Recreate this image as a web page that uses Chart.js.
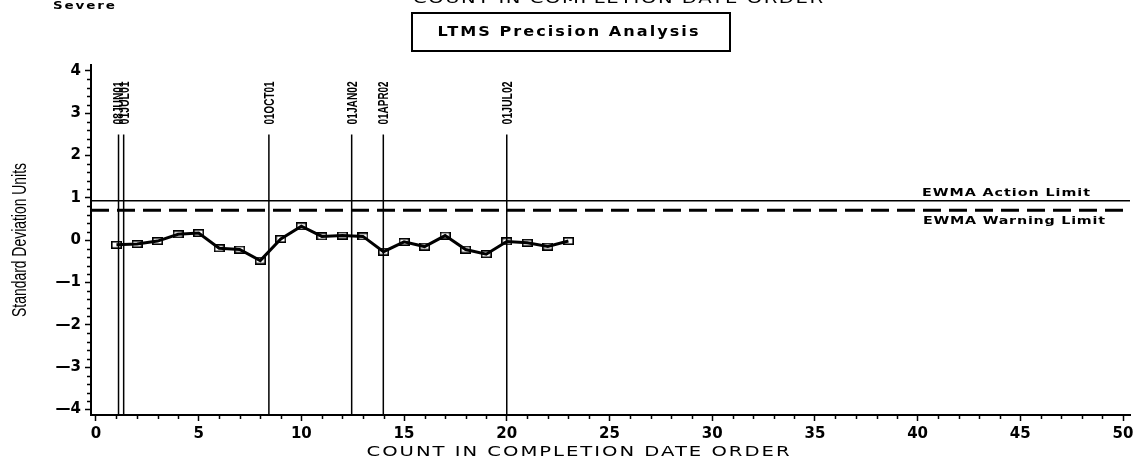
<!DOCTYPE html>
<html>
<head>
<meta charset="utf-8">
<title>LTMS Precision Analysis</title>
<script src="https://cdn.jsdelivr.net/npm/chart.js@4.4.1/dist/chart.umd.min.js"></script>
<style>
    html, body { margin: 0; padding: 0; background: #fff; }
    #wrap { width: 1148px; height: 467px; position: relative; }
</style>
</head>
<body>
<div id="wrap"><canvas id="ewmaChart"></canvas></div>
<script>
// chart values
const counts = [1, 2, 3, 4, 5, 6, 7, 8, 9, 10, 11, 12, 13, 14, 15, 16, 17, 18, 19, 20, 21, 22, 23];
const ewmaValues = [-0.11, -0.09, -0.02, 0.14, 0.17, -0.19, -0.22, -0.48, 0.03, 0.33, 0.09, 0.11,
    0.09, -0.27, -0.04, -0.15, 0.11, -0.22, -0.33, -0.03, -0.06, -0.15, -0.02];
const actionLimit = 0.93;
const warningLimit = 0.71;
const dateLinePositions = [1.1, 1.35, 8.42, 12.45, 13.99, 20.0];
const dateLineLabels = ['08JUN01', '01JUL01', '01OCT01', '01JAN02', '01APR02', '01JUL02'];
const dateLineTop = 2.5;
const xTickValues = [0, 5, 10, 15, 20, 25, 30, 35, 40, 45, 50];
const yTickValues = [-4, -3, -2, -1, 0, 1, 2, 3, 4];

const X_MIN = -0.24, X_MAX = 50.34;
const Y_MIN = -4.13, Y_MAX = 4.14;

// hollow rectangle marker like the SAS symbol
function makeMarker() {
    const c = document.createElement('canvas');
    c.width = 11;
    c.height = 8;
    const g = c.getContext('2d');
    g.strokeStyle = '#000';
    g.lineWidth = 1.6;
    g.strokeRect(0.8, 0.8, 9.4, 6.4);
    return c;
}

// draw text to a given length: glyphs widened by `stretch`, the rest as letter spacing
function drawFitted(ctx, text, x, y, font, width, opts = {}) {
    ctx.save();
    ctx.font = font;
    ctx.fillStyle = '#000';
    ctx.textAlign = 'left';
    ctx.textBaseline = opts.baseline || 'middle';
    ctx.translate(x, y);
    if (opts.rotate) ctx.rotate(opts.rotate);
    const natural = ctx.measureText(text).width;
    const start = opts.anchor === 'start' ? 0 : -width / 2;
    const stretch = opts.stretch || 1;
    ctx.translate(start, 0);
    if (opts.spacing && 'letterSpacing' in ctx && natural * stretch < width && text.length > 1) {
        ctx.scale(stretch, 1);
        ctx.letterSpacing = ((width - natural * stretch) / (text.length - 1) / stretch) + 'px';
        ctx.fillText(text, 0, 0);
    } else {
        ctx.scale(width / natural, 1);
        ctx.fillText(text, 0, 0);
    }
    ctx.restore();
}

const textPlugin = {
    id: 'sasText',
    afterDraw(chart) {
        const ctx = chart.ctx;
        const xs = chart.scales.x;
        const ys = chart.scales.y;

        // minor ticks
        ctx.save();
        ctx.strokeStyle = '#000';
        ctx.lineWidth = 1.5;
        ctx.beginPath();
        for (let v = 1; v < 50; v++) {
            if (v % 5 === 0) continue;
            const px = Math.round(xs.getPixelForValue(v)) + 0.5;
            ctx.moveTo(px, ys.bottom);
            ctx.lineTo(px, ys.bottom + 4);
        }
        for (let i = -20; i <= 20; i++) {
            if (i % 5 === 0) continue;
            const py = Math.round(ys.getPixelForValue(i / 5)) + 0.5;
            ctx.moveTo(xs.left + 1, py);
            ctx.lineTo(xs.left - 4, py);
        }
        ctx.stroke();
        ctx.restore();

        // date labels on the reference lines
        const labelBottom = ys.getPixelForValue(dateLineTop) - 10;
        dateLinePositions.forEach((pos, i) => {
            const px = xs.getPixelForValue(pos) + 1;
            drawFitted(ctx, dateLineLabels[i], px, labelBottom, 'bold 14px "Liberation Sans"', 43,
                { rotate: -Math.PI / 2, anchor: 'start' });
        });

        // limit labels
        drawFitted(ctx, 'EWMA Action Limit', 1006, 193, 'bold 11px "DejaVu Sans"', 168, { spacing: true, stretch: 1.3 });
        drawFitted(ctx, 'EWMA Warning Limit', 1014, 221, 'bold 11px "DejaVu Sans"', 182, { spacing: true, stretch: 1.3 });

        // titles
        drawFitted(ctx, 'Severe', 84, 6, 'bold 10px "DejaVu Sans"', 62, { spacing: true, stretch: 1.35 });
        drawFitted(ctx, 'COUNT IN COMPLETION DATE ORDER', 618, 3, '14px "DejaVu Sans"', 410,
            { spacing: true, stretch: 1.4, baseline: 'alphabetic' });
        ctx.save();
        ctx.strokeStyle = '#000';
        ctx.lineWidth = 2;
        ctx.strokeRect(412, 13, 318, 38);
        ctx.restore();
        drawFitted(ctx, 'LTMS Precision Analysis', 568, 32, 'bold 14px "DejaVu Sans"', 261, { spacing: true, stretch: 1.15 });
        drawFitted(ctx, 'COUNT IN COMPLETION DATE ORDER', 578, 452, '14px "DejaVu Sans"', 423, { spacing: true, stretch: 1.4 });
        drawFitted(ctx, 'Standard Deviation Units', 20, 240, '21px "Liberation Sans"', 154,
            { rotate: -Math.PI / 2 });
    }
};

function initEwmaChart() {
    const ctx = document.getElementById('ewmaChart');
    if (!ctx) return;

    const seriesPoints = counts.map((c, i) => ({ x: c, y: ewmaValues[i] }));

    const datasets = [{
        label: 'EWMA',
        data: seriesPoints,
        borderColor: '#000',
        borderWidth: 3,
        pointStyle: makeMarker(),
        pointRadius: 5,
        tension: 0
    }, {
        label: 'EWMA Action Limit',
        data: [{ x: X_MIN, y: actionLimit }, { x: X_MAX, y: actionLimit }],
        borderColor: '#000',
        borderWidth: 1.5,
        pointRadius: 0
    }, {
        label: 'EWMA Warning Limit',
        data: [{ x: X_MIN, y: warningLimit }, { x: X_MAX, y: warningLimit }],
        borderColor: '#000',
        borderWidth: 3,
        borderDash: [18, 8],
        pointRadius: 0
    }];

    dateLinePositions.forEach((pos, i) => {
        datasets.push({
            label: dateLineLabels[i],
            data: [{ x: pos, y: dateLineTop }, { x: pos, y: Y_MIN }],
            borderColor: '#000',
            borderWidth: 1.5,
            pointRadius: 0
        });
    });

    const tickFont = { family: 'DejaVu Sans', size: 15, weight: 'bold' };

    new Chart(ctx, {
        type: 'line',
        data: { datasets: datasets },
        options: {
            responsive: true,
            maintainAspectRatio: false,
            animation: false,
            layout: { padding: { left: 0, top: 65, right: 18, bottom: 0 } },
            plugins: {
                legend: { display: false },
                tooltip: { enabled: false }
            },
            scales: {
                x: {
                    type: 'linear',
                    min: X_MIN,
                    max: X_MAX,
                    afterBuildTicks: (scale) => { scale.ticks = xTickValues.map(v => ({ value: v })); },
                    afterFit: (scale) => { scale.height = 52; },
                    grid: {
                        drawOnChartArea: false,
                        tickLength: 6,
                        tickWidth: 1.5,
                        tickColor: '#000'
                    },
                    border: { display: true, color: '#000', width: 2 },
                    ticks: {
                        color: '#000',
                        font: tickFont,
                        padding: 4,
                        maxRotation: 0,
                        autoSkip: false
                    }
                },
                y: {
                    type: 'linear',
                    min: Y_MIN,
                    max: Y_MAX,
                    afterBuildTicks: (scale) => { scale.ticks = yTickValues.map(v => ({ value: v })); },
                    afterFit: (scale) => { scale.width = 91; },
                    grid: {
                        drawOnChartArea: false,
                        tickLength: 6,
                        tickWidth: 1.5,
                        tickColor: '#000'
                    },
                    border: { display: true, color: '#000', width: 2 },
                    ticks: {
                        color: '#000',
                        font: tickFont,
                        padding: 4,
                        autoSkip: false,
                        callback: (v) => v < 0 ? '\u2014' + Math.abs(v) : String(v)
                    }
                }
            }
        },
        plugins: [textPlugin]
    });
}

document.addEventListener('DOMContentLoaded', () => {
    initEwmaChart();
});
</script>
</body>
</html>
